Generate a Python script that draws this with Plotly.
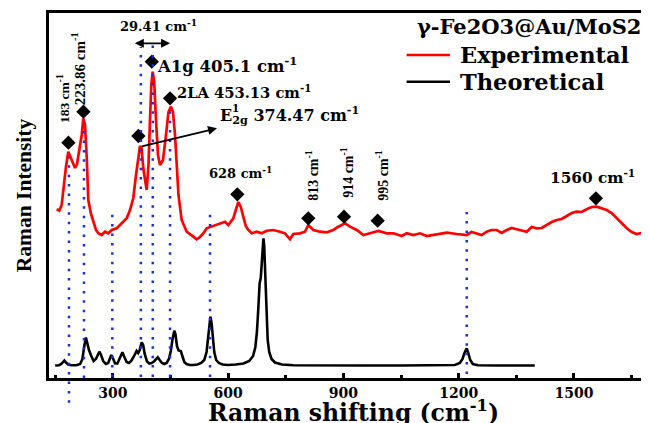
import plotly.graph_objects as go

# ---------------- data ----------------
exp_x = [154.0, 160.8, 167.0, 171.2, 178.2, 184.2, 190.5, 197.2, 201.7, 206.9, 214.7, 219.1, 223.3, 227.7,
         232.1, 236.3, 243.3, 249.3, 256.3, 262.3, 271.1, 279.7, 288.3, 297.2, 310.2, 323.2, 336.2, 344.8,
         353.4, 360.4, 366.4, 370.8, 374.7, 379.9, 388.2, 392.9, 396.8, 400.2, 403.8, 407.7, 412.4, 417.6,
         422.8, 430.6, 438.4, 444.9, 451.4, 456.6, 461.9, 466.2, 470.9, 479.2, 492.2, 509.5, 518.3, 526.9,
         535.5, 544.4, 561.5, 571.2, 579.0, 592.0, 600.6, 613.6, 620.0, 626.6, 633.0, 639.6, 646.0, 652.6,
         661.5, 674.5, 687.5, 700.5, 717.7, 735.1, 748.1, 761.1, 769.7, 787.1, 800.2, 808.8, 821.8, 839.2,
         856.6, 873.8, 886.8, 904.3, 917.3, 934.7, 951.9, 969.3, 990.9, 1012.7, 1030.0, 1051.8, 1064.8,
         1082.0, 1099.4, 1116.9, 1142.9, 1168.9, 1194.9, 1220.9, 1233.0, 1246.9, 1260.0, 1272.9, 1285.0,
         1298.9, 1312.0, 1324.9, 1338.0, 1350.9, 1365.0, 1377.0, 1390.0, 1403.0, 1416.0, 1429.0, 1442.0,
         1455.1, 1468.0, 1481.1, 1494.0, 1507.1, 1520.0, 1533.1, 1546.0, 1559.2, 1572.0, 1585.2, 1598.0,
         1611.2, 1624.0, 1637.3, 1650.0, 1663.3, 1676.0, 1689.3]
exp_y = [168.7, 167.3, 173.0, 188.0, 211.3, 226.3, 219.7, 213.0, 210.0, 214.0, 231.3, 243.0, 259.7, 253.0,
         221.3, 178.0, 164.0, 156.0, 148.0, 144.7, 143.0, 146.3, 144.7, 148.0, 149.7, 154.7, 159.7, 168.0,
         180.0, 203.0, 223.0, 232.0, 230.0, 208.0, 188.0, 213.0, 258.0, 293.0, 306.3, 296.0, 258.0, 223.0,
         213.0, 218.0, 243.0, 266.0, 271.3, 266.0, 243.0, 213.0, 183.0, 158.0, 146.3, 141.3, 138.7, 141.0,
         144.7, 149.7, 152.0, 153.0, 154.7, 156.3, 153.0, 159.7, 168.0, 176.0, 171.0, 161.3, 152.0, 148.0,
         144.7, 146.3, 144.7, 147.3, 148.0, 146.3, 144.7, 138.7, 144.0, 144.7, 146.3, 153.0, 148.0, 146.3,
         145.7, 148.0, 151.3, 154.7, 151.3, 148.0, 143.0, 144.7, 147.0, 144.7, 144.7, 142.0, 144.7,
         143.0, 144.7, 142.0, 144.0, 145.3, 144.0, 143.0, 146.0, 144.7, 143.0, 146.3, 148.0,
         148.0, 145.0, 148.0, 150.0, 148.7, 147.0, 146.3, 151.0, 149.7, 150.0, 153.0, 156.0,
         158.0, 159.0, 162.0, 165.0, 166.3, 166.0, 168.7, 171.0, 171.3, 170.0, 168.0, 165.0,
         159.7, 154.0, 149.7, 146.0, 144.0, 145.0, 146.3]

theo_x = [150, 160, 166, 170, 174, 178, 184, 192, 205, 215, 221, 225, 228, 230, 233, 238, 244, 250, 256,
          261, 265, 269, 275, 282, 288, 292, 296, 300, 306, 312, 318, 322, 325, 329, 336, 342, 348, 354,
          358, 362, 366, 370, 375, 379, 383, 389, 395, 401, 407, 412, 417, 422, 428, 434, 440, 446, 451,
          455, 460, 463, 467, 471, 474, 477, 481, 486, 492, 500, 510, 520, 530, 538, 544, 548, 551, 554,
          557, 560, 564, 569, 576, 586, 600, 620, 640, 655, 665, 671, 675, 679, 682, 685, 688, 690, 692,
          694, 696, 698, 700, 703, 707, 713, 722, 740, 770, 850, 950, 1050, 1150, 1190, 1203, 1210, 1215,
          1221, 1225, 1230, 1237, 1250, 1300, 1398]
theo_y = [12.5, 12.8, 14.0, 16.0, 17.5, 15.5, 13.5, 12.8, 12.8, 14.0, 19.0, 30.0, 37.0, 40.5, 36.0, 28.0,
          22.0, 17.0, 19.0, 23.0, 26.3, 23.5, 17.0, 14.0, 15.0, 19.0, 23.0, 20.0, 14.5, 14.5, 19.0, 23.5,
          25.7, 22.0, 16.0, 15.0, 17.0, 21.0, 24.5, 27.0, 25.0, 28.0, 35.7, 33.0, 24.0, 16.5, 14.5, 15.0,
          16.5, 19.0, 20.7, 18.0, 15.0, 14.0, 15.0, 19.0, 27.0, 38.0, 47.3, 44.0, 32.0, 27.5, 27.0, 27.0,
          22.0, 16.0, 14.0, 13.0, 13.0, 13.5, 15.0, 18.0, 26.0, 40.0, 54.0, 61.3, 55.0, 40.0, 26.0, 18.0,
          15.0, 13.5, 13.0, 13.5, 14.5, 17.0, 22.0, 31.0, 46.0, 72.0, 94.7, 100.0, 118.0, 132.0, 139.7,
          132.0, 110.0, 80.0, 55.0, 38.0, 26.0, 19.0, 15.5, 13.5, 12.8, 12.5, 12.5, 12.5, 12.5, 13.0, 15.0,
          19.0, 25.0, 29.7, 25.0, 18.0, 14.0, 12.8, 12.5, 12.5]

peak_x = [184.5, 223.5, 366.6, 401.4, 449.0, 624.0, 808.7, 901.6, 989.2, 1557.0]
peak_y = [235.3, 266.3, 242.0, 316.3, 279.7, 183.7, 159.7, 161.3, 157.3, 179.7]

# dotted guide lines: position, top, bottom (intensity units)
guide_x = [298.7, 373.0, 404.0, 449.0, 553.0, 1221.0, 225.0]
guide_top = [164, 331, 333, 268, 165, 166, 253]
guide_bot = [1, 1, 1, 1, 1, 4, 0]

series_names = ["Experimental", "Theoretical"]
series_colors = ["#ff0000", "#000000"]
legend_title = "γ-Fe2O3@Au/MoS2"
x_title = "Raman shifting (cm<sup>-1</sup>)"
y_title = "Raman Intensity"

X_RANGE = [134, 1690]
Y_RANGE = [0, 365]

SERIF_W = "DejaVu Serif"
SERIF_T = "Liberation Serif"

fig = go.Figure()
fig.add_trace(go.Scatter(x=exp_x, y=exp_y, mode="lines", name=series_names[0], showlegend=False,
                         line=dict(color=series_colors[0], width=2.7)))
fig.add_trace(go.Scatter(x=theo_x, y=theo_y, mode="lines", name=series_names[1], showlegend=False,
                         line=dict(color=series_colors[1], width=2.6)))
fig.add_trace(go.Scatter(x=peak_x, y=peak_y, mode="markers", showlegend=False,
                         marker=dict(symbol="diamond", size=11, color="black")))

dot_style = dict(color="#1a2ee6", width=2.5, dash="2.5px,6.9px")
for gx, gt, gb in zip(guide_x, guide_top, guide_bot):
    fig.add_shape(type="line", xref="x", yref="y", x0=gx, x1=gx, y0=gb, y1=gt, line=dot_style)
# the 183 cm-1 guide runs below the axis
fig.add_shape(type="line", xref="x", yref="paper", x0=186, x1=186, y0=-0.068, y1=221 / 365, line=dot_style)

def ann(text, x, y, size, font=SERIF_W, angle=0, xanchor="center", **kw):
    fig.add_annotation(text=text, x=x, y=y, xref="x", yref="y", showarrow=False, textangle=angle,
                       xanchor=xanchor, yanchor="middle",
                       font=dict(family=font, size=size, color="black", weight="bold"), **kw)

ann("183 cm<sup>-1</sup>", 170.5, 279, 13.5, font=SERIF_T, angle=-90)
ann("223.86 cm<sup>-1</sup>", 210, 309, 15, font=SERIF_T, angle=-90)
ann("813 cm<sup>-1</sup>", 818, 203, 14, font=SERIF_T, angle=-90)
ann("914 cm<sup>-1</sup>", 909, 206, 14, font=SERIF_T, angle=-90)
ann("995 cm<sup>-1</sup>", 1000, 203, 14, font=SERIF_T, angle=-90)
ann("29.41 cm<sup>-1</sup>", 420, 353, 13)
ann("A1g 405.1 cm<sup>-1</sup>", 409.8, 313, 16.5, xanchor="left")
ann("2LA 453.13 cm<sup>-1</sup>", 461.9, 286.3, 14.7, xanchor="left")
ann("E<sub>2g</sub> 374.47 cm<sup>-1</sup>", 573.8, 263, 16, xanchor="left")
ann("1", 573.8, 263, 10.5, xanchor="left", xshift=12, yshift=7)
ann("628 cm<sup>-1</sup>", 544.4, 205.3, 13, xanchor="left")
ann("1560 cm<sup>-1</sup>", 1433, 201.3, 15.3, xanchor="left")

# arrows
fig.add_annotation(x=449, y=334.7, ax=353.4, ay=334.7, xref="x", yref="y", axref="x", ayref="y",
                   text="", showarrow=True, arrowside="end+start", arrowhead=2, arrowsize=1,
                   arrowwidth=1.8, arrowcolor="black", standoff=0, startstandoff=0)
fig.add_annotation(x=571.2, y=249.7, ax=371.6, ay=231.3, xref="x", yref="y", axref="x", ayref="y",
                   text="", showarrow=True, arrowhead=2, arrowsize=1, arrowwidth=1.8,
                   arrowcolor="black", standoff=0)

# legend (drawn in paper coordinates)
fig.add_annotation(text=legend_title, x=0.993, y=0.9625, xref="paper", yref="paper", showarrow=False,
                   xanchor="right", yanchor="middle",
                   font=dict(family=SERIF_W, size=21, color="black", weight="bold"))
for i, (nm, col) in enumerate(zip(series_names, series_colors)):
    ly = 0.885 - i * 0.0732
    fig.add_shape(type="line", xref="paper", yref="paper", x0=0.598, x1=0.6706, y0=ly, y1=ly,
                  line=dict(color=col, width=2.6))
    fig.add_annotation(text=nm, x=0.6844, y=ly, xref="paper", yref="paper", showarrow=False,
                       xanchor="left", yanchor="middle",
                       font=dict(family=SERIF_W, size=22.5, color="black", weight="bold"))

# x-axis title placed low, partly running off the bottom edge as in the reference
fig.add_annotation(text=x_title, x=0.51, y=-0.093, xref="paper", yref="paper", showarrow=False,
                   xanchor="center", yanchor="middle",
                   font=dict(family=SERIF_W, size=23.5, color="black", weight="bold"))

axis_common = dict(showline=True, mirror=True, linewidth=3, linecolor="black",
                   showgrid=False, zeroline=False, automargin=False)
# the page body adds an 8px offset, so the figure is drawn 8px smaller
fig.update_layout(
    width=641, height=415,
    margin=dict(l=41, r=2, t=5, b=45),
    paper_bgcolor="white", plot_bgcolor="white",
    showlegend=False,
    xaxis=dict(range=X_RANGE, tickmode="linear", tick0=0, dtick=300, ticks="inside", ticklen=5,
               tickwidth=3, tickcolor="black", ticklabelstandoff=0,
               minor=dict(ticks="inside", ticklen=3, tickwidth=3, dtick=150, tickcolor="black"),
               tickfont=dict(family=SERIF_W, size=14, color="black", weight="bold"),
               **axis_common),
    yaxis=dict(range=Y_RANGE, showticklabels=False, ticks="",
               title=dict(text=y_title, standoff=9,
                          font=dict(family=SERIF_T, size=21.5, color="black", weight="bold")),
               **axis_common),
)

fig.write_html("out.html")
